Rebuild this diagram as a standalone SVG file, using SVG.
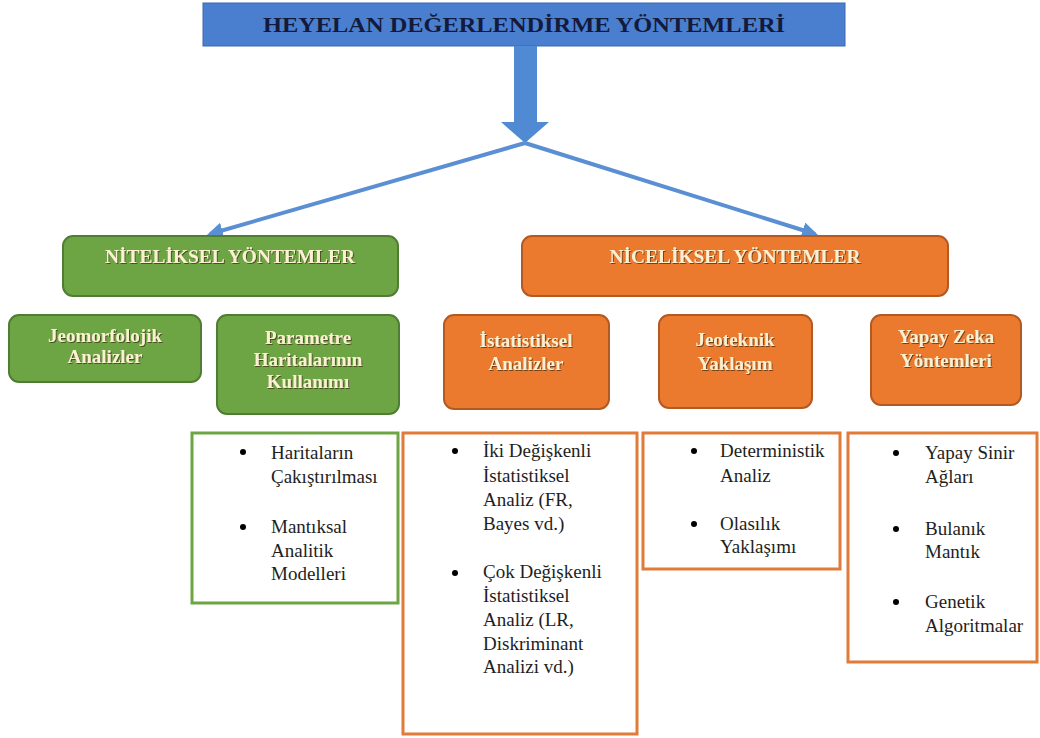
<svg xmlns="http://www.w3.org/2000/svg" width="1040" height="738" viewBox="0 0 1040 738">
<defs>
<style>
.title{font-family:"Liberation Serif","Times New Roman",serif;font-weight:bold;font-size:21px;fill:#141a3c;text-anchor:middle}
.g{fill:#6da544;stroke:#4f7d33;stroke-width:2}
.o{fill:#ec7a2e;stroke:#b35a22;stroke-width:2}
.lbl{font-family:"Liberation Serif","Times New Roman",serif;font-weight:bold;font-size:19px;fill:#fbf1d2;text-anchor:middle;filter:url(#sh)}
.list{font-family:"Liberation Serif","Times New Roman",serif;font-size:19px;fill:#1e1e1e}
.gb{fill:#fff;stroke:#6da544;stroke-width:3}
.ob{fill:#fff;stroke:#e07b39;stroke-width:3}
.con{stroke:#5b8fd3;stroke-width:4;fill:none;marker-end:url(#ah)}
</style>
<marker id="ah" viewBox="0 0 10 10" refX="8" refY="5" markerWidth="4" markerHeight="4" orient="auto" markerUnits="strokeWidth">
<path d="M0,0 L10,5 L0,10 z" fill="#5b8fd3"/>
</marker>
<filter id="sh" x="-10%" y="-30%" width="120%" height="160%">
<feDropShadow dx="1" dy="1" stdDeviation="0.6" flood-color="#3a2a10" flood-opacity="0.7"/>
</filter>
</defs>
<rect width="1040" height="738" fill="#ffffff"/>

<g id="title">
<rect x="203" y="3" width="642" height="43" fill="#4a7fcf" stroke="#3c68ad" stroke-width="1"/>
<text class="title" x="524" y="32" textLength="522" lengthAdjust="spacingAndGlyphs">HEYELAN DEĞERLENDİRME YÖNTEMLERİ</text>
</g>

<g id="connectors">
<path d="M514,46 L537,46 L537,122 L549,122 L525,143 L501,122 L514,122 z" fill="#4f8ad2"/>
<line class="con" x1="525" y1="143" x2="210" y2="234"/>
<line class="con" x1="525" y1="143" x2="815" y2="234"/>
</g>

<g id="niteliksel">
<rect class="g" x="63" y="236" width="335" height="60" rx="10"/>
<text class="lbl" x="230" y="263" textLength="250" lengthAdjust="spacingAndGlyphs">NİTELİKSEL YÖNTEMLER</text>
</g>

<g id="niceliksel">
<rect class="o" x="522" y="236" width="426" height="60" rx="10"/>
<text class="lbl" x="735" y="263" textLength="251" lengthAdjust="spacingAndGlyphs">NİCELİKSEL YÖNTEMLER</text>
</g>

<g id="jeomorfolojik">
<rect class="g" x="9" y="315" width="192" height="67" rx="10"/>
<text class="lbl" x="105" y="342">Jeomorfolojik</text>
<text class="lbl" x="105" y="363">Analizler</text>
</g>

<g id="parametre">
<rect class="g" x="217" y="315" width="182" height="99" rx="10"/>
<text class="lbl" x="308" y="344">Parametre</text>
<text class="lbl" x="308" y="366">Haritalarının</text>
<text class="lbl" x="308" y="388">Kullanımı</text>
</g>

<g id="istatistiksel">
<rect class="o" x="444" y="315" width="165" height="94" rx="10"/>
<text class="lbl" x="526" y="347">İstatistiksel</text>
<text class="lbl" x="526" y="370">Analizler</text>
</g>

<g id="jeoteknik">
<rect class="o" x="659" y="315" width="153" height="93" rx="10"/>
<text class="lbl" x="735" y="346">Jeoteknik</text>
<text class="lbl" x="735" y="370">Yaklaşım</text>
</g>

<g id="yapayzeka">
<rect class="o" x="871" y="315" width="150" height="90" rx="10"/>
<text class="lbl" x="946" y="343">Yapay Zeka</text>
<text class="lbl" x="946" y="367">Yöntemleri</text>
</g>

<g id="list-parametre">
<rect class="gb" x="192" y="433" width="206" height="170"/>
<circle cx="243" cy="452" r="3"/>
<text class="list" x="271" y="459">Haritaların</text>
<text class="list" x="271" y="483">Çakıştırılması</text>
<circle cx="243" cy="527" r="3"/>
<text class="list" x="271" y="533">Mantıksal</text>
<text class="list" x="271" y="557">Analitik</text>
<text class="list" x="271" y="580">Modelleri</text>
</g>

<g id="list-istatistiksel">
<rect class="ob" x="403" y="433" width="234" height="301"/>
<circle cx="455" cy="451" r="3"/>
<text class="list" x="483" y="457">İki Değişkenli</text>
<text class="list" x="483" y="482">İstatistiksel</text>
<text class="list" x="483" y="506">Analiz (FR,</text>
<text class="list" x="483" y="530">Bayes vd.)</text>
<circle cx="455" cy="573" r="3"/>
<text class="list" x="483" y="578">Çok Değişkenli</text>
<text class="list" x="483" y="602">İstatistiksel</text>
<text class="list" x="483" y="626">Analiz (LR,</text>
<text class="list" x="483" y="650">Diskriminant</text>
<text class="list" x="483" y="673">Analizi vd.)</text>
</g>

<g id="list-jeoteknik">
<rect class="ob" x="643" y="433" width="197" height="136"/>
<circle cx="694" cy="451" r="3"/>
<text class="list" x="720" y="457">Deterministik</text>
<text class="list" x="720" y="482">Analiz</text>
<circle cx="694" cy="524" r="3"/>
<text class="list" x="720" y="530">Olasılık</text>
<text class="list" x="720" y="553">Yaklaşımı</text>
</g>

<g id="list-yapayzeka">
<rect class="ob" x="848" y="433" width="189" height="229"/>
<circle cx="896" cy="453" r="3"/>
<text class="list" x="925" y="459">Yapay Sinir</text>
<text class="list" x="925" y="483">Ağları</text>
<circle cx="896" cy="529" r="3"/>
<text class="list" x="925" y="535">Bulanık</text>
<text class="list" x="925" y="558">Mantık</text>
<circle cx="896" cy="602" r="3"/>
<text class="list" x="925" y="608">Genetik</text>
<text class="list" x="925" y="632">Algoritmalar</text>
</g>
</svg>
